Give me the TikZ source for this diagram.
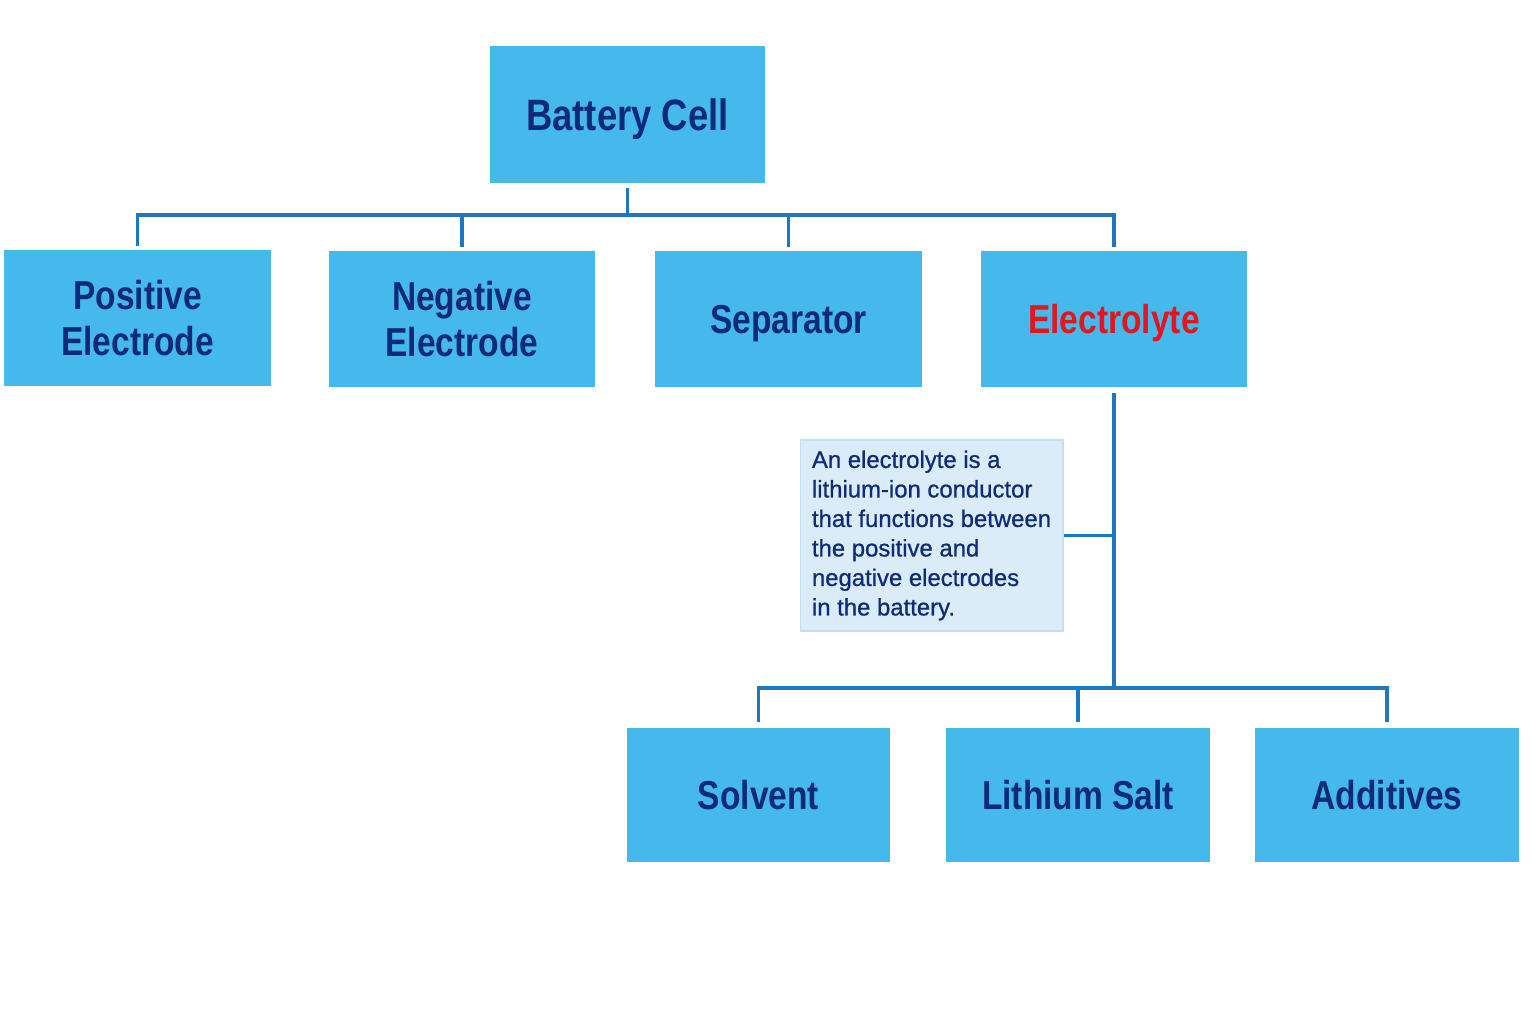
\documentclass[tikz,border=0pt]{standalone}
\usepackage{fontspec}
\setmainfont{Liberation Sans}
\newfontfamily\partfont{Liberation Sans}[FakeStretch=0.83]
\newfontfamily\notefont{Liberation Sans}[FakeBold=0.8]
\definecolor{partblue}{HTML}{45B9EC}
\definecolor{partnavy}{HTML}{0F2A77}
\definecolor{linkblue}{HTML}{1F77C0}
\definecolor{notefill}{HTML}{D9ECF8}
\definecolor{noteedge}{HTML}{C4DFF0}
\definecolor{partred}{HTML}{E3161E}
\begin{document}
\begin{tikzpicture}[x=0.02cm,y=-0.02cm,
    part/.style={rectangle,fill=partblue,text=partnavy,align=center,inner sep=0pt,
      font=\partfont\bfseries\fontsize{23}{26.5}\selectfont,
      minimum width=5.34cm,minimum height=2.72cm},
    oneline/.style={text depth=0pt},
    subpart/.style={part,oneline,minimum width=5.28cm,minimum height=2.68cm},
    note/.style={rectangle,fill=notefill,draw=noteedge,line width=0.6pt,text=partnavy,
      align=left,inner sep=0pt,font=\notefont\fontsize{13.6}{16.8}\selectfont,
      minimum width=5.26cm,minimum height=3.82cm},
    link/.style={draw=linkblue,line width=1.8pt}]

      \useasboundingbox (0,0) rectangle (1537,1023);

      \node [part,oneline,minimum width=5.5cm,minimum height=2.74cm,
      font=\partfont\bfseries\fontsize{25}{29}\selectfont] (cell) at (627.5,114.5) {Battery Cell};

      \node [part] (pos) at (137.5,318) {Positive\\Electrode};
      \node [part] (neg) at (462,319) {Negative\\Electrode};
      \node [part,oneline] (sep) at (788.5,319) {Separator};
      \node [part,oneline,text=partred] (elec) at (1114,319) {Electrolyte};

      \node [note] (info) at (931.5,535.5) {An electrolyte is a\\lithium-ion conductor\\that functions between\\the positive and\\negative electrodes\\in the battery.};

      \node [subpart] (solv) at (758.5,795) {Solvent};
      \node [subpart] (salt) at (1078,795) {Lithium Salt};
      \node [subpart] (add) at (1387,795) {Additives};

      \coordinate (bus) at (627.5,215);
      \coordinate (subbus) at (1114,688);

      \draw [link,shorten <=0.1cm] (cell.south) -- (bus);
      \draw [link,shorten <=0.08cm,shorten >=0.08cm] (pos.north) -- (pos.north |- bus)
        -- (elec.north |- bus) -- (elec.north);
      \draw [link,shorten >=0.08cm] (neg.north |- bus) -- (neg.north);
      \draw [link,shorten >=0.08cm] (sep.north |- bus) -- (sep.north);

      \draw [link,shorten <=0.12cm] (elec.south) -- (subbus);
      \draw [link,shorten <=0.12cm,shorten >=0.12cm] (solv.north) -- (solv.north |- subbus)
        -- (add.north |- subbus) -- (add.north);
      \draw [link,shorten >=0.12cm] (salt.north |- subbus) -- (salt.north);

      \draw [link] (info.east) -- (info.east -| elec.south);
  \end{tikzpicture}
\end{document}
